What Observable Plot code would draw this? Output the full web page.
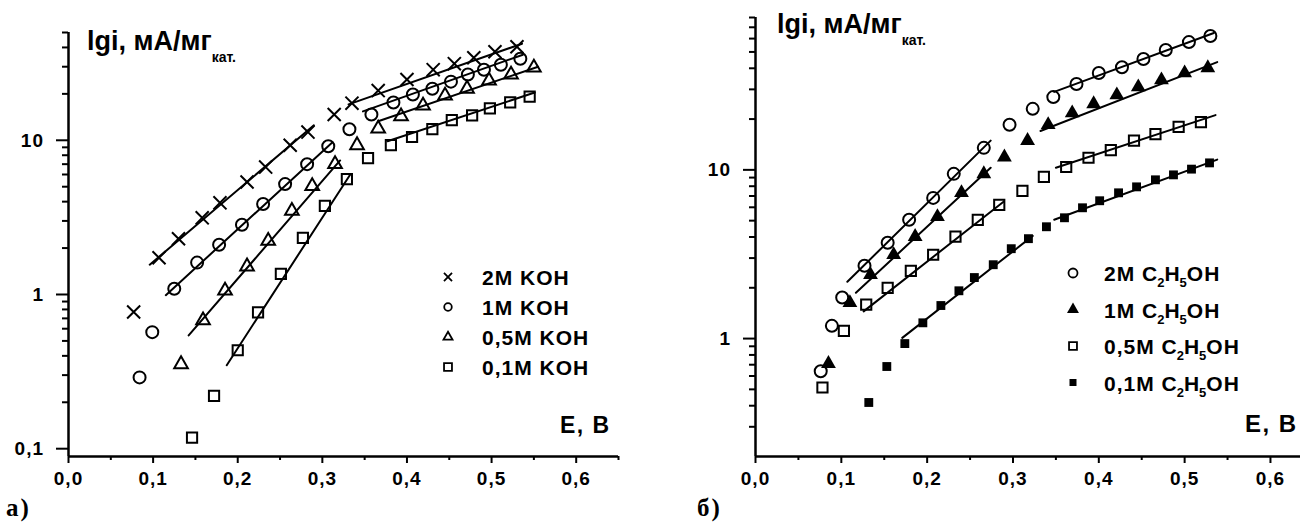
<!DOCTYPE html>
<html><head><meta charset="utf-8">
<script src="https://cdn.jsdelivr.net/npm/d3@7"></script>
<script src="https://cdn.jsdelivr.net/npm/@observablehq/plot@0.6"></script>
<style>
html,body{margin:0;padding:0;background:#fff;}
#root{position:relative;width:1302px;height:524px;overflow:hidden;background:#fff;}
.panel{position:absolute;top:0;}
</style></head><body><div id="root"></div>
<script>
// ---------- Panel а) : KOH concentration ----------
const E_2M_KOH = [0.077,0.107,0.130,0.158,0.179,0.211,0.233,0.262,0.283,0.314,0.335,0.366,0.400,0.431,0.456,0.479,0.504,0.530];
const I_2M_KOH = [0.77,1.73,2.30,3.14,3.93,5.36,6.70,9.29,11.3,14.7,17.4,21.0,24.8,28.7,31.4,34.3,37.5,40.4];
const E_1M_KOH = [0.084,0.099,0.125,0.152,0.178,0.205,0.230,0.256,0.282,0.307,0.332,0.358,0.384,0.407,0.430,0.452,0.472,0.491,0.511,0.534];
const I_1M_KOH = [0.29,0.57,1.09,1.61,2.10,2.83,3.86,5.20,7.0,9.15,11.8,14.7,17.6,19.8,21.6,24.0,26.7,28.7,30.9,33.8];
const E_05M_KOH = [0.133,0.159,0.185,0.211,0.236,0.264,0.288,0.315,0.341,0.366,0.393,0.419,0.445,0.471,0.497,0.523,0.550];
const I_05M_KOH = [0.353,0.679,1.06,1.52,2.23,3.49,5.04,7.0,9.29,11.9,14.3,16.8,19.5,21.6,24.4,26.7,29.6];
const E_01M_KOH = [0.146,0.172,0.200,0.224,0.251,0.277,0.303,0.329,0.354,0.381,0.406,0.430,0.453,0.477,0.498,0.522,0.545];
const I_01M_KOH = [0.118,0.220,0.435,0.766,1.36,2.33,3.75,5.6,7.65,9.29,10.5,11.8,13.5,14.5,16.1,17.6,19.2];
// fit segments: [E1, I1, E2, I2]
const FIT_2M_KOH = [[0.096,1.56,0.290,12.5],[0.331,17.1,0.536,42.3]];
const FIT_1M_KOH = [[0.115,0.99,0.312,9.7],[0.348,15.4,0.537,35.9]];
const FIT_05M_KOH = [[0.142,0.543,0.321,7.4],[0.366,13.3,0.555,30.0]];
const FIT_01M_KOH = [[0.187,0.348,0.333,6.0],[0.377,9.86,0.551,20.4]];

// ---------- Panel б) : C2H5OH concentration ----------
const E_2M_ET = [0.076,0.089,0.101,0.127,0.154,0.179,0.207,0.231,0.266,0.296,0.323,0.347,0.374,0.400,0.427,0.452,0.478,0.505,0.530];
const I_2M_ET = [0.64,1.19,1.75,2.70,3.70,5.06,6.82,9.47,13.5,18.5,23.0,27.0,32.3,37.5,40.6,45.4,51.3,57.2,62.1];
const E_1M_ET = [0.085,0.110,0.134,0.161,0.186,0.212,0.240,0.266,0.290,0.317,0.341,0.369,0.394,0.421,0.446,0.473,0.500,0.527];
const I_1M_ET = [0.71,1.63,2.39,3.14,4.02,5.27,7.31,9.47,11.9,14.9,18.5,21.7,24.6,27.8,31.0,34.1,37.5,40.2];
const E_05M_ET = [0.078,0.103,0.129,0.154,0.181,0.207,0.233,0.259,0.284,0.311,0.336,0.362,0.388,0.414,0.441,0.466,0.493,0.519];
const I_05M_ET = [0.513,1.11,1.59,2.00,2.52,3.14,4.02,5.06,6.21,7.51,9.09,10.4,11.8,13.1,14.9,16.3,18.0,19.2];
const E_01M_ET = [0.132,0.153,0.174,0.195,0.216,0.237,0.255,0.277,0.298,0.318,0.339,0.360,0.381,0.401,0.423,0.444,0.466,0.487,0.508,0.529];
const I_01M_ET = [0.418,0.683,0.934,1.24,1.57,1.92,2.30,2.74,3.41,3.91,4.60,5.20,5.96,6.56,7.31,7.93,8.73,9.34,10.1,11.0];
const FIT_2M_ET = [[0.107,2.17,0.274,14.9],[0.348,29.0,0.534,64.7]];
const FIT_1M_ET = [[0.117,1.87,0.274,10.3],[0.332,17.0,0.538,43.5]];
const FIT_05M_ET = [[0.126,1.45,0.289,6.47],[0.350,10.3,0.536,21.1]];
const FIT_01M_ET = [[0.171,1.01,0.323,4.06],[0.348,5.06,0.538,11.5]];

// ---------- ticks ----------
const X_TICKS = [0,0.1,0.2,0.3,0.4,0.5,0.6];
const X_TICK_LABELS = ["0,0","0,1","0,2","0,3","0,4","0,5","0,6"];
const X_MINOR_A = [0.05,0.15,0.25,0.35,0.45,0.55,0.65];
const X_MINOR_B = [0.05,0.15,0.25,0.35,0.45,0.55];
const Y_TICKS_A = [0.1,1,10];
const Y_TICK_LABELS_A = ["0,1","1","10"];
const Y_MINOR_A = [0.2,0.3,0.4,0.5,0.6,0.7,0.8,0.9,2,3,4,5,6,7,8,9,20,30,40,50];
const Y_TICKS_B = [1,10];
const Y_TICK_LABELS_B = ["1","10"];
const Y_MINOR_B = [0.3,0.4,0.5,0.6,0.7,0.8,0.9,2,3,4,5,6,7,8,9,20,30,40,50,60,70,80];

const LEGEND_A = ["2M KOH","1M KOH","0,5M KOH","0,1M KOH"];
const LEGEND_B = ["2M","1M","0,5M","0,1M"];

function pts(E, I){ return E.map((e,i)=>({E:e, I:I[i]})); }
function segs(F, key){ return F.flatMap((f,j)=>[{E:f[0],I:f[1],id:key+j},{E:f[2],I:f[3],id:key+j}]); }

function panel(o){
  const none = () => "";
  const marks = [
    Plot.axisY(o.yMinor, {tickSize:6, strokeWidth:2, tickFormat:none, label:null}),
    Plot.axisY(o.yTicks, {tickSize:12, strokeWidth:2, tickFormat:none, label:null}),
    Plot.axisX(o.xMinor, {tickSize:4, strokeWidth:2, tickFormat:none, label:null}),
    Plot.axisX(X_TICKS, {tickSize:7, strokeWidth:2, tickFormat:none, label:null}),
    Plot.ruleX([0], {stroke:"black", strokeWidth:2.5}),
    Plot.ruleY([o.yDomain[0]], {stroke:"black", strokeWidth:2.5}),
    Plot.line(o.fits, {x:"E", y:"I", z:"id", stroke:"black", strokeWidth:2})
  ];
  for (const s of o.series) {
    marks.push(Plot.dot(s.data, {x:"E", y:"I", symbol:s.symbol, r:s.r,
      fill: s.filled ? "black" : "none", stroke: s.filled ? "none" : "black", strokeWidth:2}));
  }
  return Plot.plot({
    width:o.width, height:524,
    marginLeft:o.ml, marginRight:o.mr, marginTop:o.mt, marginBottom:68,
    x:{type:"linear", domain:o.xDomain},
    y:{type:"log", domain:o.yDomain},
    style:{background:"transparent", overflow:"visible", color:"black"},
    marks
  });
}

const root = document.getElementById("root");

const pA = panel({
  width:640, ml:68, mr:22, mt:32, xDomain:[0,0.65], yDomain:[0.089,50],
  yTicks:Y_TICKS_A, yMinor:Y_MINOR_A, xMinor:X_MINOR_A,
  fits:[...segs(FIT_2M_KOH,"a"),...segs(FIT_1M_KOH,"b"),...segs(FIT_05M_KOH,"c"),...segs(FIT_01M_KOH,"d")],
  series:[
    {data:pts(E_2M_KOH,I_2M_KOH), symbol:"times", r:6},
    {data:pts(E_1M_KOH,I_1M_KOH), symbol:"circle", r:6},
    {data:pts(E_05M_KOH,I_05M_KOH), symbol:"triangle2", r:6.5},
    {data:pts(E_01M_KOH,I_01M_KOH), symbol:"square2", r:6.5}
  ]
});
const dA = document.createElement("div"); dA.className="panel"; dA.style.left="0px"; dA.appendChild(pA); root.appendChild(dA);

const pB = panel({
  width:662, ml:115, mr:2, mt:17, xDomain:[0,0.635], yDomain:[0.2,80],
  yTicks:Y_TICKS_B, yMinor:Y_MINOR_B, xMinor:X_MINOR_B,
  fits:[...segs(FIT_2M_ET,"a"),...segs(FIT_1M_ET,"b"),...segs(FIT_05M_ET,"c"),...segs(FIT_01M_ET,"d")],
  series:[
    {data:pts(E_2M_ET,I_2M_ET), symbol:"circle", r:6},
    {data:pts(E_1M_ET,I_1M_ET), symbol:"triangle", r:5.5, filled:true},
    {data:pts(E_05M_ET,I_05M_ET), symbol:"square2", r:6.5},
    {data:pts(E_01M_ET,I_01M_ET), symbol:"square", r:5, filled:true}
  ]
});
const dB = document.createElement("div"); dB.className="panel"; dB.style.left="640px"; dB.appendChild(pB); root.appendChild(dB);

// ---------- overlay: tick labels, axis titles, legends, panel letters ----------
const ov = d3.select(root).append("svg").attr("width",1302).attr("height",524)
  .style("position","absolute").style("left","0px").style("top","0px").style("pointer-events","none")
  .attr("font-family","'Liberation Sans', Arial, sans-serif").attr("font-weight","bold").attr("fill","black");

function tickLabels(plot, offset, yTicks, yLabels, axisX, baseY){
  const sx = plot.scale("x"), sy = plot.scale("y");
  X_TICKS.forEach((v,i)=>{
    ov.append("text").attr("x", offset + sx.apply(v) + 0.5).attr("y", baseY)
      .attr("text-anchor","middle").attr("font-size",19).attr("letter-spacing",1).text(X_TICK_LABELS[i]);
  });
  yTicks.forEach((v,i)=>{
    ov.append("text").attr("x", offset + axisX - 24).attr("y", sy.apply(v) + 7)
      .attr("text-anchor","end").attr("font-size",19).attr("letter-spacing",1).text(yLabels[i]);
  });
}
tickLabels(pA, 0, Y_TICKS_A, Y_TICK_LABELS_A, 68, 485);
tickLabels(pB, 640, Y_TICKS_B, Y_TICK_LABELS_B, 115, 485);

function yTitle(x, y){
  const t = ov.append("text").attr("x",x).attr("y",y).attr("font-size",27);
  t.append("tspan").text("lgi, мА/мг");
  t.append("tspan").attr("font-size",14).attr("dy",12).text("кат.");
}
yTitle(87,50);
yTitle(777,33);

ov.append("text").attr("x",560).attr("y",433).attr("font-size",23).attr("letter-spacing",1.5).text("E, B");
ov.append("text").attr("x",1245).attr("y",432).attr("font-size",24).attr("letter-spacing",1.5).text("E, B");

ov.append("text").attr("x",6).attr("y",516).attr("font-family","'Liberation Serif', 'Times New Roman', serif").attr("font-size",25).attr("letter-spacing",2).text("а)");
ov.append("text").attr("x",697).attr("y",516).attr("font-family","'Liberation Serif', 'Times New Roman', serif").attr("font-size",25).attr("letter-spacing",2).text("б)");

// legend a
const legA = [
  {sym:d3.symbolTimes, size:44, fill:false},
  {sym:d3.symbolCircle, size:45, fill:false},
  {sym:d3.symbolTriangle2, size:58, fill:false},
  {sym:d3.symbolSquare2, size:80, fill:false}
];
LEGEND_A.forEach((lab,i)=>{
  const by = 285 + i*30;
  const s = legA[i];
  ov.append("path").attr("d", d3.symbol(s.sym, s.size)()).attr("transform",`translate(448,${by-8})`)
    .attr("fill", s.fill ? "black" : "none").attr("stroke", s.fill ? "none" : "black").attr("stroke-width",1.8);
  ov.append("text").attr("x",482).attr("y",by).attr("font-size",21).attr("letter-spacing",1).text(lab);
});

// legend b
const legB = [
  {sym:d3.symbolCircle, size:64, fill:false},
  {sym:d3.symbolTriangle, size:62, fill:true},
  {sym:d3.symbolSquare2, size:80, fill:false},
  {sym:d3.symbolSquare, size:49, fill:true}
];
LEGEND_B.forEach((lab,i)=>{
  const by = 281 + i*36.5;
  const s = legB[i];
  ov.append("path").attr("d", d3.symbol(s.sym, s.size)()).attr("transform",`translate(1073,${by-8})`)
    .attr("fill", s.fill ? "black" : "none").attr("stroke", s.fill ? "none" : "black").attr("stroke-width",1.8);
  const t = ov.append("text").attr("x",1104).attr("y",by).attr("font-size",21).attr("letter-spacing",1);
  t.append("tspan").text(lab + " C");
  t.append("tspan").attr("font-size",13).attr("dy",6).attr("dx",-1).text("2");
  t.append("tspan").attr("dy",-6).attr("dx",-1).text("H");
  t.append("tspan").attr("font-size",13).attr("dy",6).attr("dx",-1).text("5");
  t.append("tspan").attr("dy",-6).attr("dx",-1).text("OH");
});
</script>
</body></html>
